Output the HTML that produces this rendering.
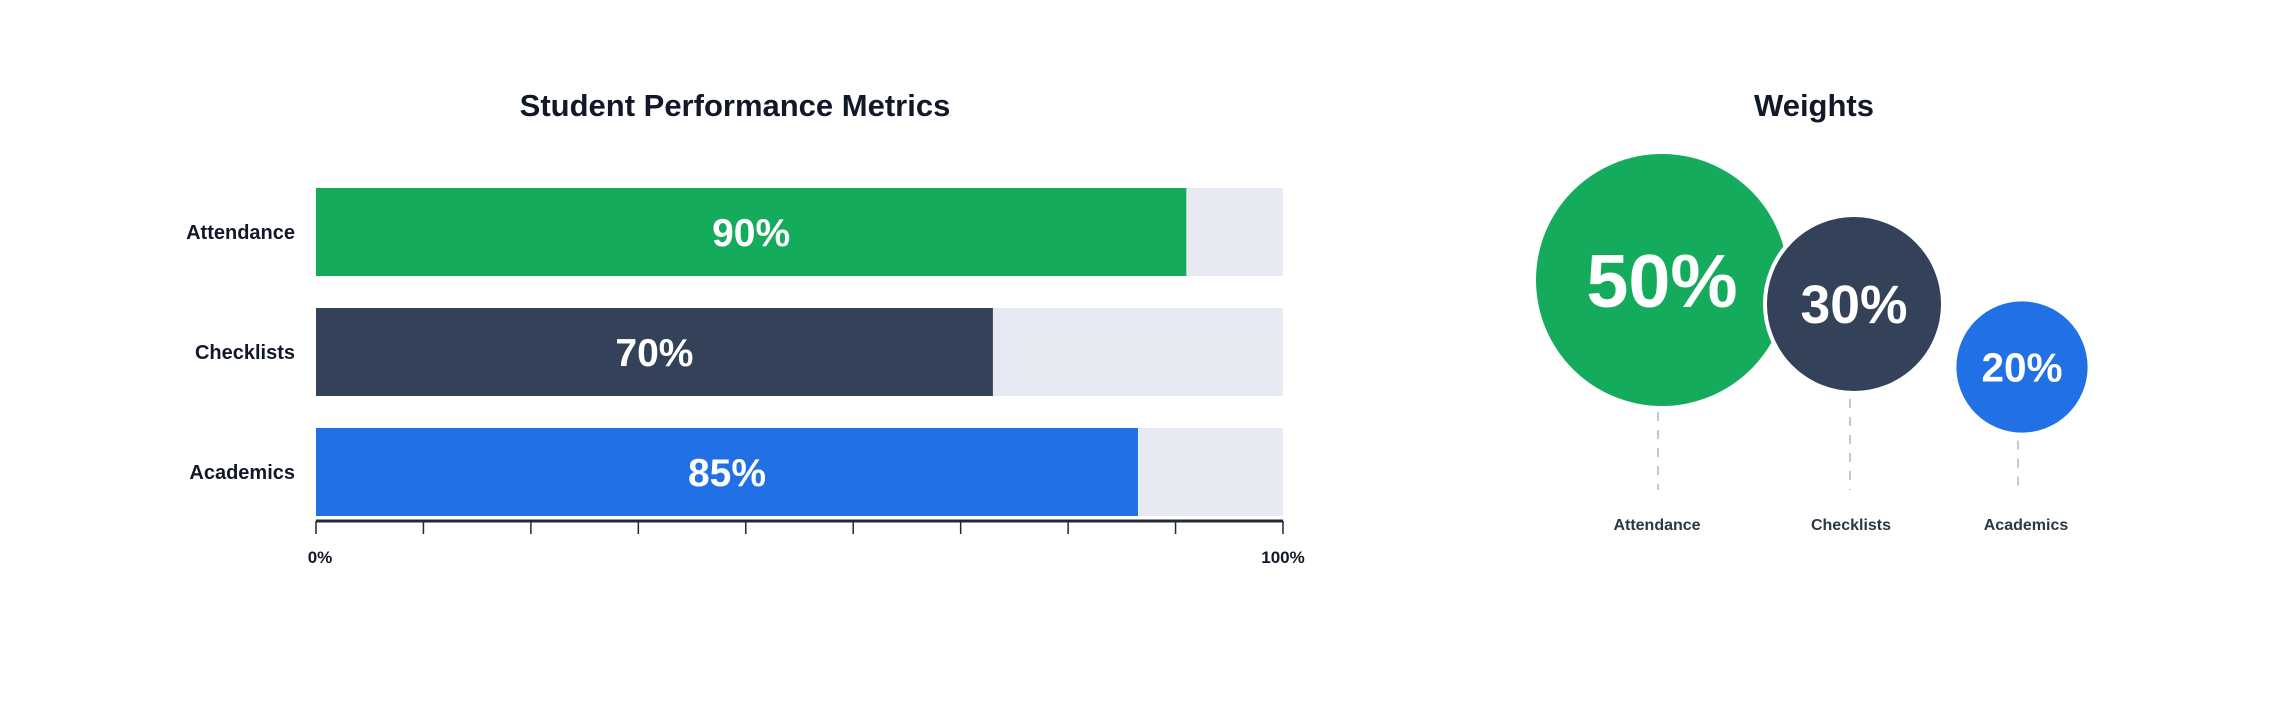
<!DOCTYPE html>
<html><head><meta charset="utf-8"><style>
html,body{margin:0;padding:0;background:#fff;}
svg{display:block;font-family:"Liberation Sans",sans-serif;}
</style></head><body>
<svg id="root" width="2279" height="704" viewBox="0 0 2279 704">
<text x="735" y="116" text-anchor="middle" font-size="31" font-weight="bold" fill="#111827">Student Performance Metrics</text>
<g id="bars"></g>
<text x="1814" y="116" text-anchor="middle" font-size="31" font-weight="bold" fill="#111827">Weights</text>
<g id="bubbles"></g>
</svg>
<script>
const categories = ["Attendance", "Checklists", "Academics"];
const scores = [90, 70, 85];
const weights = [50, 30, 20];
const tickLabels = ["0%", "100%"];
const colors = ["#14AB5C", "#344259", "#2170E6"];
const NS = "http://www.w3.org/2000/svg";
function mk(tag, attrs, parent){const e=document.createElementNS(NS,tag);for(const k in attrs)e.setAttribute(k,attrs[k]);parent.appendChild(e);return e;}
// bar chart
const X0=316, X1=1283, barTop=188, barH=88, barStep=120;
const xs = v => X0 + (v/100)*(X1-X0);
const bars=document.getElementById('bars');
categories.forEach((c,i)=>{
  const y=barTop+i*barStep;
  const track=mk('rect',{x:X0,y:y,width:X1-X0,height:barH,fill:'#E7EAF2'},bars);
  
  
  const b=mk('rect',{x:X0,y:y,width:xs(scores[i])-X0,height:barH,fill:colors[i]},bars);
  
  
  const lab=mk('text',{x:295,y:y+barH/2+7,'text-anchor':'end','font-size':20,'font-weight':'bold',fill:'#111827'},bars);
  lab.textContent=c;
  
  
  const val=mk('text',{x:(X0+xs(scores[i]))/2,y:y+barH/2+14,'text-anchor':'middle','font-size':39,'font-weight':'bold',fill:'#fff'},bars);
  val.textContent=scores[i]+'%';
  
  
});
const axis=mk('line',{x1:X0,x2:X1,y1:521,y2:521,stroke:'#1f2937','stroke-width':3},bars);


for(let k=0;k<=9;k++){
  const tx=X0+k*(X1-X0)/9;
  const t=mk('line',{x1:tx,x2:tx,y1:521,y2:534,stroke:'#1f2937','stroke-width':1.5},bars);
  
  
}
tickLabels.forEach((t,i)=>{
  const el=mk('text',{x:i?X1:X0+4,y:563,'text-anchor':'middle','font-size':17,'font-weight':'bold',fill:'#111827'},bars);
  el.textContent=t;
  
  
});
// bubbles
const cxs=[1662,1854,2022], cys=[280,304,367], labelX=[1657,1851,2026];
const rs = v => 126*Math.pow(v/50,0.68);
const bub=document.getElementById('bubbles');
categories.forEach((c,i)=>{
  const r=rs(weights[i]);
  const ln=mk('line',{x1:cxs[i]-4,x2:cxs[i]-4,y1:cys[i]+r+6,y2:490,stroke:'#c4c8d0','stroke-width':2,'stroke-dasharray':'9 9'},bub);
  
  
  const ci=mk('circle',{cx:cxs[i],cy:cys[i],r:r,fill:colors[i],stroke:'#fff','stroke-width':i?4:0},bub);
  
  
  const fs=r*0.6;
  const v=mk('text',{x:cxs[i],y:cys[i]+fs*0.36,'text-anchor':'middle','font-size':fs,'font-weight':'bold',fill:'#fff'},bub);
  v.textContent=weights[i]+'%';
  
  
  const l=mk('text',{x:labelX[i],y:530,'text-anchor':'middle','font-size':16,'font-weight':'bold',fill:'#2d3748'},bub);
  l.textContent=c;
  
  
});
</script>
</body></html>
